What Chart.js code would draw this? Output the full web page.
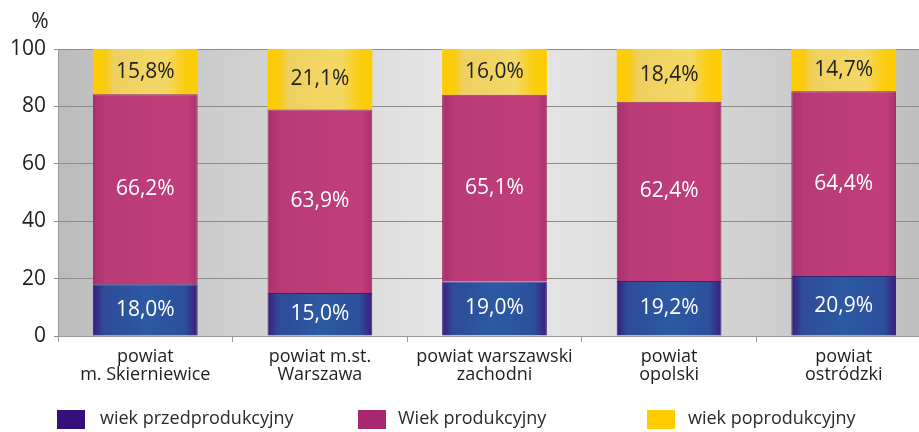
<!DOCTYPE html>
<html>
<head>
<meta charset="utf-8">
<script src="https://cdn.jsdelivr.net/npm/chart.js@4"></script>
<style>
  html, body { margin: 0; padding: 0; background: #fff; overflow: hidden; }
  #wrap { width: 931px; height: 432px; }
</style>
</head>
<body>
<div id="wrap"><canvas id="chart" width="931" height="432"></canvas></div>
<script>
// dane
const categories = [
    ['powiat', 'm. Skierniewice'],
    ['powiat m.st.', 'Warszawa'],
    ['powiat warszawski', 'zachodni'],
    ['powiat', 'opolski'],
    ['powiat', 'ostródzki']
];
const przedprodukcyjny = [18.0, 15.0, 19.0, 19.2, 20.9];
const produkcyjny = [66.2, 63.9, 65.1, 62.4, 64.4];
const poprodukcyjny = [15.8, 21.1, 16.0, 18.4, 14.7];
const seriesNames = ['wiek przedprodukcyjny', 'Wiek produkcyjny', 'wiek poprodukcyjny'];
const yTicks = [0, 20, 40, 60, 80, 100];

const FONT = "'Open Sans', 'DejaVu Sans', sans-serif";
const BAR_PCT = 0.6;

// gradient poziomy dla każdego słupka
function barGradient(stops, fallback) {
    return function(ctx) {
        const chart = ctx.chart;
        const xs = chart.scales.x;
        if (!xs || ctx.type !== 'data' || !xs.width) return fallback;
        const cx = xs.getPixelForValue(ctx.dataIndex);
        const w = xs.width / categories.length * BAR_PCT;
        const g = chart.ctx.createLinearGradient(cx - w / 2, 0, cx + w / 2, 0);
        stops.forEach(s => g.addColorStop(s[0], s[1]));
        return g;
    };
}

const blueStops = [[0, '#3b1c7a'], [0.1, '#2e4b98'], [0.5, '#2c5aa2'], [0.88, '#2d4f9c'], [1, '#3b1c7a']];
const magentaStops = [[0, '#a8306f'], [0.12, '#b83a77'], [0.5, '#bd3d79'], [0.9, '#c23e7a'], [1, '#a8306f']];
const yellowStops = [[0, '#ffcc00'], [0.12, '#f8cb10'], [0.2, '#eed060'], [0.7, '#f4d864'], [0.88, '#fbcc10'], [1, '#ffcc00']];

const legendColors = ['#36107a', '#a8286f', '#ffcc00'];

// tło obszaru wykresu
const plotBg = {
    id: 'plotBg',
    beforeDraw(chart) {
        const { ctx, chartArea: a } = chart;
        const g = ctx.createLinearGradient(a.left, 0, a.right, 0);
        g.addColorStop(0, '#bcbcbc');
        g.addColorStop(0.45, '#e6e6e6');
        g.addColorStop(0.6, '#e2e2e2');
        g.addColorStop(1, '#bdbdbd');
        ctx.save();
        ctx.fillStyle = g;
        ctx.fillRect(a.left, a.top, a.right - a.left, a.bottom - a.top);
        ctx.restore();
    }
};

// etykiety wartości na słupkach
const valueLabels = {
    id: 'valueLabels',
    afterDatasetsDraw(chart) {
        const ctx = chart.ctx;
        ctx.save();
        ctx.font = '21px ' + FONT;
        ctx.textAlign = 'center';
        ctx.textBaseline = 'middle';
        chart.data.datasets.forEach((ds, di) => {
            const meta = chart.getDatasetMeta(di);
            meta.data.forEach((el, i) => {
                const v = ds.data[i];
                ctx.fillStyle = di === 2 ? '#222' : '#fff';
                ctx.fillText(v.toFixed(1).replace('.', ',') + '%', el.x, (el.y + el.base) / 2);
            });
        });
        ctx.restore();
    }
};

// legenda i znak %
const extras = {
    id: 'extras',
    afterDraw(chart) {
        const ctx = chart.ctx;
        ctx.save();
        ctx.fillStyle = '#222';
        ctx.font = '21px ' + FONT;
        ctx.textAlign = 'center';
        ctx.textBaseline = 'middle';
        ctx.fillText('%', 40, 22);

        const boxX = [57, 358, 647];
        const textX = [100, 398, 688];
        ctx.font = '18px ' + FONT;
        ctx.textAlign = 'left';
        seriesNames.forEach((name, i) => {
            ctx.fillStyle = legendColors[i];
            ctx.fillRect(boxX[i], 410, 28, 19);
            ctx.fillStyle = '#2a2a2a';
            ctx.fillText(name, textX[i], 419);
        });
        ctx.restore();
    }
};

new Chart(document.getElementById('chart'), {
    type: 'bar',
    data: {
        labels: categories,
        datasets: [
            { label: seriesNames[0], data: przedprodukcyjny, backgroundColor: barGradient(blueStops, '#2c5aa2'), borderColor: '#3a1f78', borderWidth: 1 },
            { label: seriesNames[1], data: produkcyjny, backgroundColor: barGradient(magentaStops, '#bd3d79'), borderColor: '#9a2a4e', borderWidth: 1 },
            { label: seriesNames[2], data: poprodukcyjny, backgroundColor: barGradient(yellowStops, '#ffcc00'), borderWidth: 0 }
        ]
    },
    options: {
        responsive: false,
        animation: false,
        layout: { padding: { top: 49, left: 0, right: 0, bottom: 0 } },
        datasets: { bar: { categoryPercentage: 1, barPercentage: BAR_PCT } },
        plugins: {
            legend: { display: false },
            tooltip: { enabled: false }
        },
        scales: {
            x: {
                stacked: true,
                afterFit(scale) { scale.height = 96; },
                grid: { drawOnChartArea: false, offset: true, tickLength: 6, color: '#999' },
                border: { color: '#999' },
                ticks: { color: '#1e1e1e', font: { family: FONT, size: 18, lineHeight: 1.05 }, padding: 5, maxRotation: 0, autoSkip: false }
            },
            y: {
                stacked: true,
                min: 0,
                max: 100,
                afterFit(scale) { scale.width = 58; },
                afterBuildTicks(scale) { scale.ticks = yTicks.map(v => ({ value: v })); },
                grid: { color: '#8c8c8c', tickLength: 4 },
                border: { color: '#999' },
                ticks: { color: '#1e1e1e', font: { family: FONT, size: 21 }, padding: 8 }
            }
        }
    },
    plugins: [plotBg, valueLabels, extras]
});
</script>
</body>
</html>
